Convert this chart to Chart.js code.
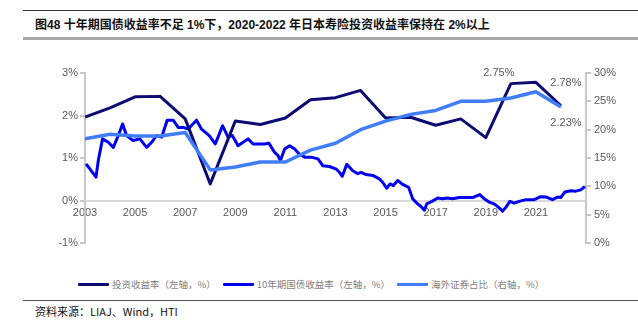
<!DOCTYPE html>
<html>
<head>
<meta charset="utf-8">
<script src="https://cdn.jsdelivr.net/npm/chart.js@4.4.1/dist/chart.umd.min.js"></script>
<style>
  body { margin: 0; background: #fff; width: 638px; height: 327px; position: relative; overflow: hidden; font-family: "Liberation Sans", "Noto Sans CJK SC", sans-serif; }
  .rule-top { position: absolute; left: 23px; right: 0; top: 10px; height: 1px; background: #333; }
  .title { position: absolute; left: 35px; top: 15px; font: bold 12px "Liberation Sans", "Noto Sans CJK SC", sans-serif; color: #111; white-space: nowrap; }
  .rule-title { position: absolute; left: 23px; right: 0; top: 37px; height: 3px; background: #a6a6a6; }
  #chartBox { position: absolute; left: 0; top: 50px; width: 638px; height: 220px; }
  #legend { position: absolute; left: 78px; top: 277px; display: flex; align-items: center; white-space: nowrap; font: 9.5px "Noto Sans CJK SC", sans-serif; color: #7f7f7f; }
  #legend .item { display: flex; align-items: center; margin-right: 7px; }
  #legend .swatch { width: 31px; height: 3px; margin-right: 3px; border-radius: 1px; }
  .rule-src { position: absolute; left: 23px; right: 0; top: 300px; height: 1px; background: #555; }
  .source { position: absolute; left: 35px; top: 303px; font: 11px "Noto Sans CJK SC", sans-serif; color: #111; white-space: nowrap; }
</style>
</head>
<body>
<div class="rule-top"></div>
<div class="title">图48 十年期国债收益率不足 1%下，2020-2022 年日本寿险投资收益率保持在 2%以上</div>
<div class="rule-title"></div>
<div id="chartBox"><canvas id="yieldChart"></canvas></div>
<div id="legend"></div>
<div class="rule-src"></div>
<div class="source">资料来源：LIAJ、Wind，HTI</div>

<script>
// fiscal years for the annual series
const years = [2003, 2004, 2005, 2006, 2007, 2008, 2009, 2010, 2011, 2012,
               2013, 2014, 2015, 2016, 2017, 2018, 2019, 2020, 2021, 2022];

// life insurers' investment yield, % (left axis)
const investYield = [1.96, 2.18, 2.44, 2.45, 1.92, 0.39, 1.87, 1.79, 1.94, 2.37,
                     2.42, 2.59, 1.94, 1.96, 1.77, 1.92, 1.48, 2.75, 2.78, 2.23];

// share of foreign securities in assets, % (right axis)
const foreignShare = [18.4, 19.2, 18.9, 18.9, 19.5, 12.9, 13.4, 14.3, 14.3, 16.4,
                      17.6, 20.0, 21.5, 22.7, 23.4, 25.0, 25.0, 25.6, 26.7, 24.0];

// 10-year JGB yield, % (left axis)
const jgbDates = [2003.04, 2003.2, 2003.44, 2003.53, 2003.7, 2003.93, 2004.13, 2004.33, 2004.5, 2004.66,
                  2004.92, 2005.19, 2005.46, 2005.66, 2005.86, 2006.06, 2006.28, 2006.52, 2006.72, 2006.92,
                  2007.12, 2007.45, 2007.65, 2007.95, 2008.2, 2008.31, 2008.49, 2008.71, 2008.88, 2009.11,
                  2009.31, 2009.51, 2009.71, 2009.97, 2010.17, 2010.34, 2010.57, 2010.7, 2010.8, 2010.97,
                  2011.17, 2011.37, 2011.54, 2011.77, 2012.03, 2012.3, 2012.49, 2012.76, 2013.03, 2013.16,
                  2013.27, 2013.45, 2013.69, 2013.89, 2014.02, 2014.22, 2014.49, 2014.75, 2014.88, 2015.04,
                  2015.18, 2015.31, 2015.48, 2015.68, 2015.92, 2016.08, 2016.28, 2016.41, 2016.55, 2016.64,
                  2016.85, 2017.08, 2017.27, 2017.47, 2017.67, 2017.94, 2018.2, 2018.47, 2018.76, 2018.94,
                  2019.14, 2019.33, 2019.51, 2019.67, 2019.8, 2019.96, 2020.13, 2020.33, 2020.6, 2020.93,
                  2021.19, 2021.42, 2021.66, 2021.86, 2021.99, 2022.16, 2022.39, 2022.59, 2022.79, 2022.96];
const jgbYield = [0.86, 0.74, 0.55, 0.94, 1.45, 1.37, 1.25, 1.53, 1.80, 1.53,
                  1.41, 1.45, 1.25, 1.37, 1.53, 1.49, 1.89, 1.89, 1.72, 1.72,
                  1.68, 1.89, 1.68, 1.53, 1.33, 1.49, 1.76, 1.49, 1.53, 1.29,
                  1.37, 1.45, 1.33, 1.33, 1.33, 1.35, 1.13, 1.06, 0.94, 1.21,
                  1.29, 1.21, 1.10, 1.02, 1.02, 0.98, 0.82, 0.80, 0.74, 0.66,
                  0.57, 0.85, 0.70, 0.63, 0.66, 0.61, 0.59, 0.51, 0.43, 0.29,
                  0.39, 0.35, 0.47, 0.38, 0.31, 0.04, -0.08, -0.14, -0.23, -0.08,
                  -0.02, 0.06, 0.04, 0.06, 0.04, 0.07, 0.07, 0.07, 0.14, 0.04,
                  -0.04, -0.08, -0.16, -0.25, -0.16, -0.02, -0.06, -0.02, 0.02, 0.02,
                  0.09, 0.08, 0.02, 0.08, 0.07, 0.20, 0.23, 0.22, 0.25, 0.33];

const leftTicks = [-1, 0, 1, 2, 3];
const rightTicks = [0, 5, 10, 15, 20, 25, 30];
const xLabels = [2003, 2005, 2007, 2009, 2011, 2013, 2015, 2017, 2019, 2021];

// years whose investment yield gets a value label, with the label offset
const labelledYears = [2020, 2021, 2022];
const labelOffsets = [[-12, -11], [30, 1], [5, 17]];

const navy = '#0b0b72';
const blue = '#0000f0';
const lightBlue = '#3f7dfb';
const axisGray = '#c8c8c8';
const tickText = '#595959';
const tickFont = { family: '"Liberation Sans", Arial, sans-serif', size: 11 };

const pairs = (xs, ys) => xs.map((x, i) => ({ x: x, y: ys[i] }));

const valueLabels = {
  id: 'valueLabels',
  afterDatasetsDraw(chart) {
    const meta = chart.getDatasetMeta(0);
    const c = chart.ctx;
    c.save();
    c.font = '11px "Liberation Sans", Arial, sans-serif';
    c.fillStyle = tickText;
    c.textAlign = 'center';
    c.textBaseline = 'middle';
    labelledYears.forEach((yr, k) => {
      const i = years.indexOf(yr);
      const pt = meta.data[i];
      c.fillText(investYield[i].toFixed(2) + '%', pt.x + labelOffsets[k][0], pt.y + labelOffsets[k][1]);
    });
    c.restore();
  }
};

const ctx = document.getElementById('yieldChart').getContext('2d');
const yieldChart = new Chart(ctx, {
  type: 'line',
  data: {
    datasets: [{
      label: '投资收益率（左轴，%）',
      data: pairs(years, investYield),
      borderColor: navy,
      backgroundColor: navy,
      borderWidth: 3,
      yAxisID: 'y',
      order: 2
    }, {
      label: '10年期国债收益率（左轴，%）',
      data: pairs(jgbDates, jgbYield),
      borderColor: blue,
      backgroundColor: blue,
      borderWidth: 3,
      yAxisID: 'y',
      order: 3
    }, {
      label: '海外证券占比（右轴，%）',
      data: pairs(years, foreignShare),
      borderColor: lightBlue,
      backgroundColor: lightBlue,
      borderWidth: 3.5,
      yAxisID: 'y1',
      order: 1
    }]
  },
  options: {
    responsive: true,
    maintainAspectRatio: false,
    animation: false,
    elements: { point: { radius: 0 }, line: { tension: 0, borderJoinStyle: 'round' } },
    layout: { padding: { left: 0, right: 0, top: 23, bottom: 27 } },
    plugins: {
      legend: { display: false },
      tooltip: { enabled: false }
    },
    scales: {
      x: {
        type: 'linear',
        position: { y: 0 },
        min: 2003,
        max: 2023,
        afterBuildTicks: (scale) => { scale.ticks = xLabels.map(v => ({ value: v })); },
        ticks: { color: tickText, font: tickFont, padding: 6, maxRotation: 0, callback: v => String(v) },
        grid: { display: false, drawTicks: false },
        border: { color: '#d9d9d9', width: 2 }
      },
      y: {
        position: 'left',
        min: -1,
        max: 3,
        afterBuildTicks: (scale) => { scale.ticks = leftTicks.map(v => ({ value: v })); },
        afterFit: (scale) => { scale.width = 85; },
        ticks: { color: tickText, font: tickFont, padding: 2, callback: v => v + '%' },
        grid: { drawOnChartArea: false, tickLength: 5, color: axisGray, lineWidth: 2 },
        border: { color: axisGray, width: 2 }
      },
      y1: {
        position: 'right',
        min: 0,
        max: 30,
        afterBuildTicks: (scale) => { scale.ticks = rightTicks.map(v => ({ value: v })); },
        afterFit: (scale) => { scale.width = 52; },
        ticks: { color: tickText, font: tickFont, padding: 3, callback: v => v + '%' },
        grid: { drawOnChartArea: false, tickLength: 5, color: axisGray, lineWidth: 2 },
        border: { color: axisGray, width: 2 }
      }
    }
  },
  plugins: [valueLabels]
});

// legend built from the datasets
const legendEl = document.getElementById('legend');
yieldChart.data.datasets.forEach(ds => {
  const item = document.createElement('div');
  item.className = 'item';
  const sw = document.createElement('span');
  sw.className = 'swatch';
  sw.style.background = ds.borderColor;
  const txt = document.createElement('span');
  txt.textContent = ds.label;
  item.appendChild(sw);
  item.appendChild(txt);
  legendEl.appendChild(item);
});
</script>
</body>
</html>
